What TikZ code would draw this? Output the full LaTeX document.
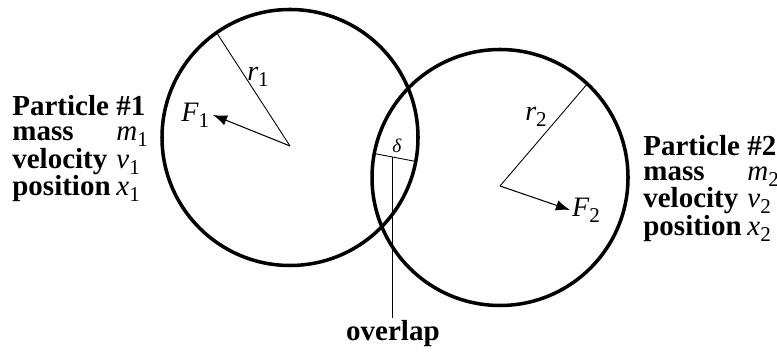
\documentclass[tikz,border=0pt]{standalone}
\usepackage{fontspec}
\setmainfont{Liberation Serif}
\usetikzlibrary{arrows.meta,calc,positioning}
\newcommand{\psym}[2]{{\mdseries\itshape #1}{\mdseries\upshape\raisebox{-0.45ex}{\fontsize{12}{12}\selectfont #2}}}

\begin{document}
\begin{tikzpicture}[
  ball/.style={line width=2pt},
  radline/.style={line width=0.5pt},
  force/.style={line width=0.6pt, -{Latex[length=8pt,width=6pt]}},
  lbl/.style={font=\fontsize{16}{16}\selectfont, inner sep=2pt},
  info/.style={font=\fontsize{16.5}{14.2}\selectfont\bfseries, inner sep=0pt}]
\useasboundingbox (0,0) rectangle (15.54,7.08);
% the two particles
\coordinate (c1) at (5.8,4.33);
\coordinate (c2) at (10.0,3.53);
\coordinate (p1) at (5.8,4.16);
\coordinate (p2) at (10.0,3.36);
\draw[ball] (c1) circle (2.56);
\draw[ball] (c2) circle (2.56);
% radii
\coordinate (e1) at ($(c1)+(125:2.56)$);
\coordinate (e2) at ($(c2)+(47:2.56)$);
\draw[radline] (p1) -- (e1);
\draw[radline] (p2) -- (e2);
\node[lbl] (r1) at (5.16,5.54) {\psym{r}{1}};
\node[lbl] (r2) at (10.72,4.74) {\psym{r}{2}};
% contact forces
\coordinate (f1) at (4.26,4.78);
\coordinate (f2) at (11.4,2.88);
\draw[force] (p1) -- (f1);
\draw[force] (p2) -- (f2);
\node[lbl, anchor=east] (F1) at (f1) {\psym{F}{1}};
\node[lbl, anchor=west, inner sep=1pt] (F2) at (f2) {\psym{F}{2}};
% overlap
\coordinate (d1) at ($(c2)!2.56cm!(c1)$);
\coordinate (d2) at ($(c1)!2.56cm!(c2)$);
\draw[radline] (d1) -- (d2);
\node[font=\fontsize{11}{11}\selectfont, anchor=south, inner sep=3pt] (delta) at ($(d1)!0.55!(d2)$) {\textit{δ}};
\coordinate (o1) at ($(d1)!0.45!(d2)$);
\coordinate (o2) at (o1 |- 0,0.72);
\draw[radline] (o1) -- (o2);
\node[info, anchor=north, inner sep=1pt] (ov) at (o2) {overlap};
% particle data
\node[info, anchor=west] (data1) at (0.24,4.09) {%
  \begin{tabular}{@{}l@{\hspace{0.2em}}l@{}}
  Particle & \#1\\
  mass & \psym{m}{1}\\
  velocity & \psym{v}{1}\\
  position & \psym{x}{1}
  \end{tabular}};
\node[info, anchor=west] (data2) at (12.86,3.3) {%
  \begin{tabular}{@{}l@{\hspace{0.2em}}l@{}}
  Particle & \#2\\
  mass & \psym{m}{2}\\
  velocity & \psym{v}{2}\\
  position & \psym{x}{2}
  \end{tabular}};
\end{tikzpicture}
\end{document}
